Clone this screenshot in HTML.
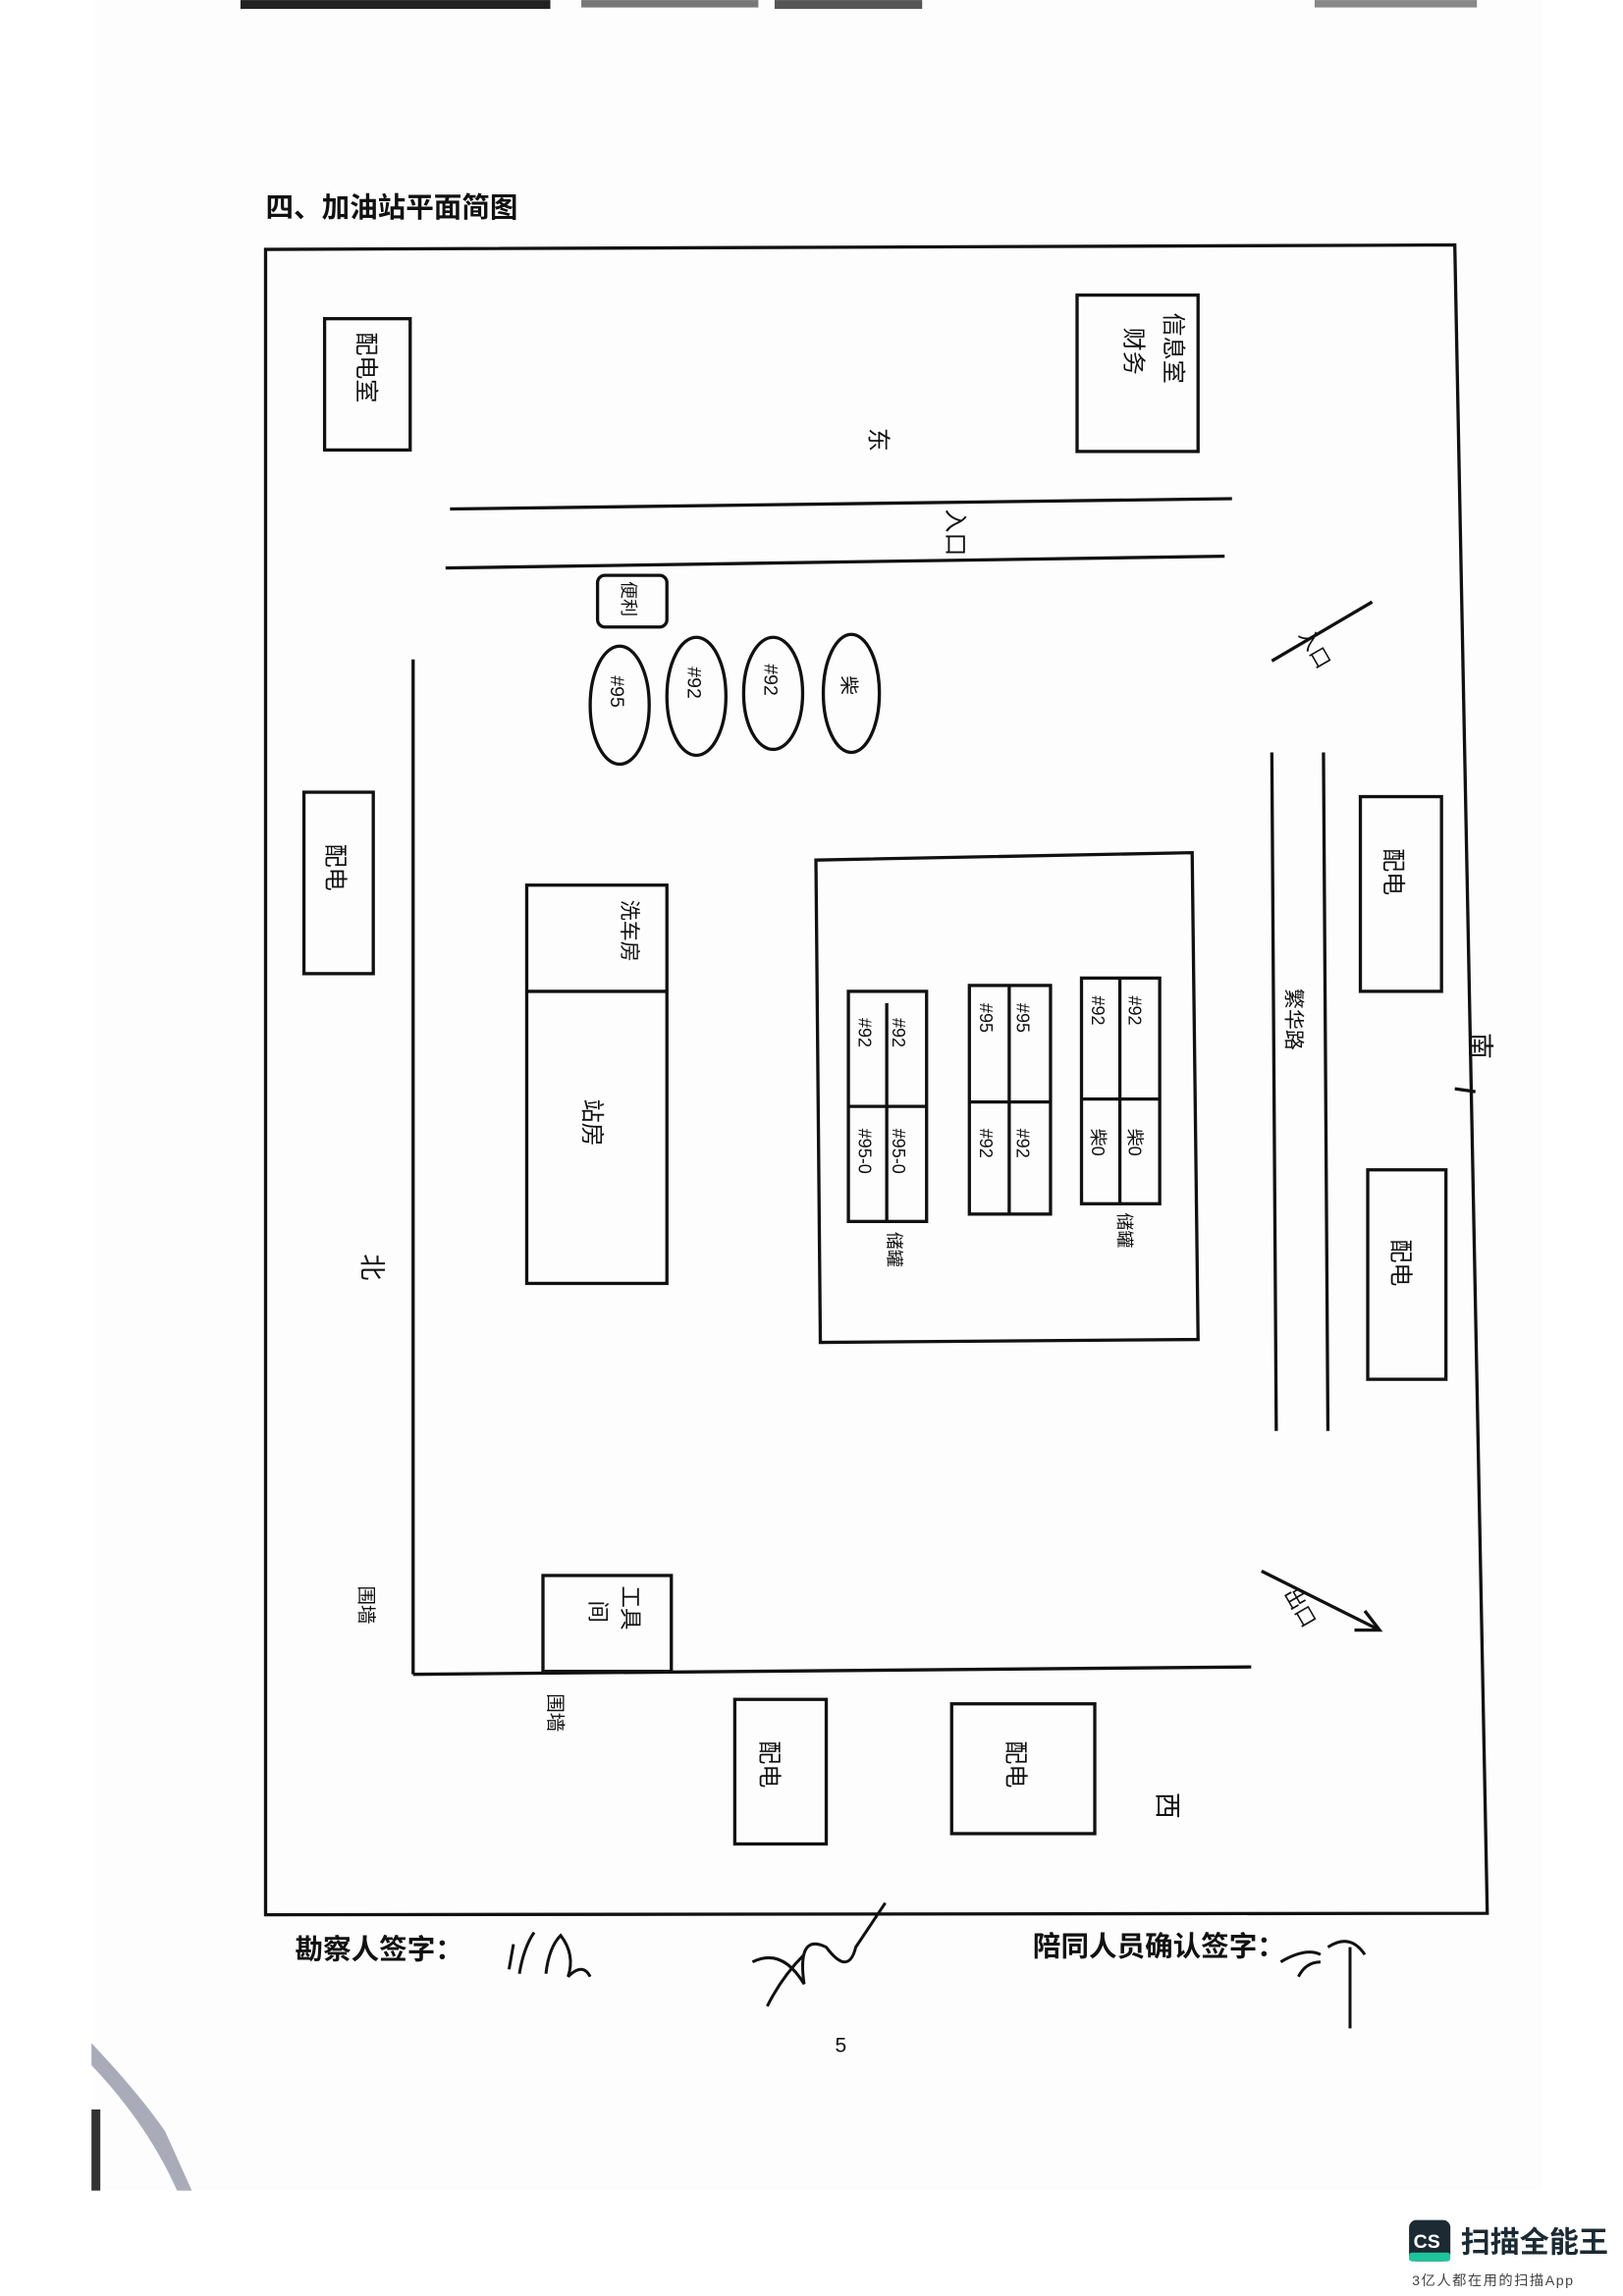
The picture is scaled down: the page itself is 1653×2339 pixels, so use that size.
<!DOCTYPE html>
<html><head><meta charset="utf-8"><style>
html,body{margin:0;padding:0;background:#fff;}
svg{display:block;}
text{font-family:"Liberation Sans","Noto Sans CJK SC",sans-serif;fill:#111;}
.h{font-family:"Liberation Sans","Noto Sans CJK SC",sans-serif;font-weight:400;}
</style></head><body>
<svg width="1653" height="2339" viewBox="0 0 1100 1556.4" xmlns="http://www.w3.org/2000/svg">
<rect x="62" y="0" width="983" height="1485" fill="#fdfdfd"/>
<!-- top bars -->
<rect x="163" y="0" width="210" height="6" fill="#222"/>
<rect x="394" y="0" width="120" height="5" fill="#777"/>
<rect x="525" y="0" width="100" height="6" fill="#555"/>
<rect x="891" y="0" width="110" height="5" fill="#888"/>
<!-- shadow bottom left -->
<path d="M62 1385 Q95 1420 112 1445 L130 1485 L120 1485 Q100 1440 62 1400 Z" fill="#a9acb8"/>
<rect x="62" y="1430" width="6" height="55" fill="#333"/>
<!-- title -->
<text x="180" y="147" font-size="19" font-weight="bold">四、加油站平面简图</text>
<g fill="none" stroke="#111" stroke-width="2.2">
<polygon points="180,169 986,166 1008,1297 180,1298"/>
<rect x="220" y="216" width="58" height="89"/>
<rect x="730" y="200" width="82" height="106"/>
<line x1="305" y1="345" x2="835" y2="338"/>
<line x1="302" y1="385" x2="830" y2="377"/>
<rect x="405" y="390" width="47" height="35" rx="5"/>
<ellipse cx="420" cy="478" rx="20" ry="40"/>
<ellipse cx="472" cy="472" rx="20" ry="40"/>
<ellipse cx="524" cy="470" rx="20" ry="38"/>
<ellipse cx="577" cy="470" rx="19" ry="40"/>
<line x1="862" y1="448" x2="930" y2="408"/>
<line x1="280" y1="447" x2="280" y2="1135"/>
<line x1="280" y1="1135" x2="848" y2="1130"/>
<rect x="206" y="537" width="47" height="123"/>
<rect x="357" y="600" width="95" height="270"/>
<line x1="357" y1="672" x2="452" y2="672"/>
<polygon points="553,583 808,578 812,908 556,910"/>
<rect x="575" y="672" width="53" height="156"/>
<line x1="601" y1="680" x2="601" y2="828"/><line x1="575" y1="750" x2="628" y2="750"/>
<rect x="657" y="668" width="55" height="155"/>
<line x1="684" y1="668" x2="684" y2="823"/><line x1="657" y1="747" x2="712" y2="747"/>
<rect x="733" y="663" width="53" height="153"/>
<line x1="759" y1="663" x2="759" y2="816"/><line x1="733" y1="745" x2="786" y2="745"/>
<line x1="862" y1="510" x2="865" y2="970"/>
<line x1="897" y1="510" x2="900" y2="970"/>
<rect x="922" y="540" width="55" height="132"/>
<rect x="927" y="793" width="53" height="142"/>
<rect x="368" y="1068" width="87" height="65"/>
<rect x="498" y="1152" width="62" height="98"/>
<rect x="645" y="1155" width="97" height="88"/>
<line x1="855" y1="1065" x2="935" y2="1105"/>
<polyline points="918,1105 935,1105 925,1092"/>
<line x1="986" y1="738" x2="1000" y2="740"/>
</g>
<g font-size="16" class="h">
<text transform="translate(243,225) rotate(90)">配电室</text>
<text transform="translate(790,212) rotate(90)">信息室</text>
<text transform="translate(763,222) rotate(90)">财务</text>
<text transform="translate(590,290) rotate(90)">东</text>
<text transform="translate(642,345) rotate(90)">入口</text>
<text transform="translate(422,394) rotate(90)" font-size="12">便利</text>
<text transform="translate(414,458) rotate(90)" font-size="13">#95</text>
<text transform="translate(466,452) rotate(90)" font-size="13">#92</text>
<text transform="translate(518,450) rotate(90)" font-size="13">#92</text>
<text transform="translate(571,458) rotate(90)" font-size="13">柴</text>
<text transform="translate(880,430) rotate(60)" font-size="14">入口</text>
<text transform="translate(222,572) rotate(90)">配电</text>
<text transform="translate(422,610) rotate(90)" font-size="14">洗车房</text>
<text transform="translate(396,745) rotate(90)">站房</text>
<g font-size="12">
<text transform="translate(605,690) rotate(90)">#92</text><text transform="translate(582,690) rotate(90)">#92</text>
<text transform="translate(605,765) rotate(90)">#95-0</text><text transform="translate(582,765) rotate(90)">#95-0</text>
<text transform="translate(689,680) rotate(90)">#95</text><text transform="translate(664,680) rotate(90)">#95</text>
<text transform="translate(689,765) rotate(90)">#92</text><text transform="translate(664,765) rotate(90)">#92</text>
<text transform="translate(765,675) rotate(90)">#92</text><text transform="translate(740,675) rotate(90)">#92</text>
<text transform="translate(765,765) rotate(90)">柴0</text><text transform="translate(740,765) rotate(90)">柴0</text>
<text transform="translate(602,835) rotate(90)">储罐</text>
<text transform="translate(758,822) rotate(90)">储罐</text>
</g>
<text transform="translate(872,670) rotate(90)" font-size="14">繁华路</text>
<text transform="translate(939,575) rotate(90)">配电</text>
<text transform="translate(944,840) rotate(90)">配电</text>
<text transform="translate(997,700) rotate(90)" font-size="18">南</text>
<text transform="translate(246,850) rotate(90)" font-size="18">北</text>
<text transform="translate(244,1075) rotate(90)" font-size="13">围墙</text>
<text transform="translate(422,1075) rotate(90)" font-size="15">工具</text>
<text transform="translate(400,1085) rotate(90)" font-size="15">间</text>
<text transform="translate(372,1148) rotate(90)" font-size="13">围墙</text>
<text transform="translate(516,1180) rotate(90)">配电</text>
<text transform="translate(683,1180) rotate(90)">配电</text>
<text transform="translate(870,1080) rotate(60)" font-size="14">出口</text>
<text transform="translate(785,1215) rotate(90)" font-size="18">西</text>
</g>
<text x="200" y="1328" font-size="19" font-weight="bold">勘察人签字：</text>
<text x="700" y="1326" font-size="19" font-weight="bold">陪同人员确认签字：</text>
<g fill="none" stroke="#111" stroke-width="2">
<path d="M345 1335 L348 1318 M352 1338 Q355 1320 362 1310 M370 1338 Q372 1320 380 1312 Q390 1325 385 1340 Q395 1330 400 1340"/>
<path d="M510 1330 Q530 1320 545 1345 Q540 1310 560 1320 Q575 1340 580 1320 L600 1290 M520 1360 Q530 1340 545 1325"/>
<path d="M868 1330 Q885 1320 895 1325 M880 1340 Q885 1330 895 1330 M900 1320 Q915 1310 925 1325 M915 1320 L915 1375"/>
</g>
<text x="566" y="1391" font-size="14" font-family="Liberation Serif">5</text>
<!-- logo -->
<rect x="955" y="1505" width="28" height="28" rx="5" fill="#1b2a33"/>
<rect x="955" y="1527" width="28" height="6" rx="2" fill="#1fc49b"/>
<text x="958" y="1524" font-size="13" font-weight="bold" style="fill:#fff">CS</text>
<text x="990" y="1527" font-size="20" font-weight="bold" style="fill:#1b2a33">扫描全能王</text>
<text x="957" y="1549" font-size="9.5" style="fill:#444" letter-spacing="1">3亿人都在用的扫描App</text>
</svg>
</body></html>
